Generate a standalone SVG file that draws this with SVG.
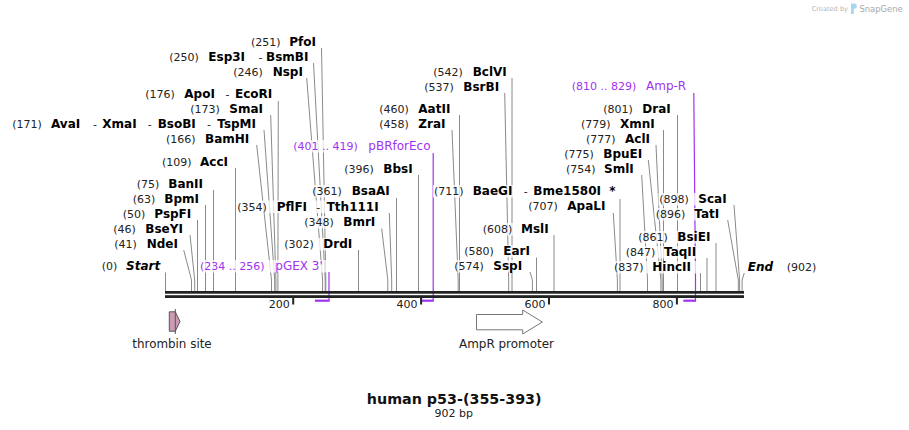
<svg xmlns="http://www.w3.org/2000/svg" width="909" height="430" viewBox="0 0 909 430">
<style>
.n{font-family:"DejaVu Sans",Verdana,sans-serif;font-size:11px;fill:#222}
.e{font-family:"DejaVu Sans",Verdana,sans-serif;font-size:12px;font-weight:bold;fill:#000}
.ei{font-family:"DejaVu Sans",Verdana,sans-serif;font-size:12px;font-weight:bold;font-style:italic;fill:#000}
.pn{font-family:"DejaVu Sans",Verdana,sans-serif;font-size:11px;fill:#a033f0}
.pt{font-family:"DejaVu Sans",Verdana,sans-serif;font-size:12px;fill:#a033f0}
.ft{font-family:"DejaVu Sans",Verdana,sans-serif;font-size:12px;fill:#222}
.bg{fill:#fff;fill-opacity:0.75}
.cl{stroke:#8a8a8a;stroke-width:1;fill:none}
.pl{stroke:#a033f0;stroke-width:1.2;fill:none}
.ph{stroke:#a033f0;stroke-width:2.2;fill:none}
.tk{stroke:#222;stroke-width:2}
</style>

<g id="watermark">
<text x="811.7" y="10.5" font-family="DejaVu Sans,sans-serif" font-size="6.6px" fill="#b4b4b4">Created by</text>
<path d="M851 3.5h3.2a2.6 2.6 0 0 1 0 5.2h-0.4v5.3h-2.8z" fill="#a6d6f2"/>
<text x="859.5" y="12" font-family="DejaVu Sans,sans-serif" font-size="8.4px" fill="#a8a8a8">SnapGene</text>
</g>

<g id="connectors">
<path class="cl" d="M321.5 48L325.8 280V291"/>
<path class="cl" d="M313.5 63L325.2 280V291"/>
<path class="cl" d="M306.7 78L322.6 280V291"/>
<path class="cl" d="M278.3 101L277.9 280V291"/>
<path class="cl" d="M270.7 115L275.9 280V291"/>
<path class="cl" d="M264 130L274.7 280V291"/>
<path class="cl" d="M256.7 145L271.5 280V291"/>
<path class="cl" d="M235.5 168V291"/>
<path class="cl" d="M213.5 190V291"/>
<path class="cl" d="M205.5 205V291"/>
<path class="cl" d="M197.5 220V291"/>
<path class="cl" d="M190 235L194.7 280V291"/>
<path class="cl" d="M183.7 250L191.5 280V291"/>
<path class="cl" d="M165.5 272.5V291"/>
<path class="cl" d="M389.3 213L391.7 280V291"/>
<path class="cl" d="M381.7 228.5L387.8 280V291"/>
<path class="cl" d="M358.5 250V291"/>
<path class="cl" d="M396.5 198V291"/>
<path class="cl" d="M418.5 175V291"/>
<path class="cl" d="M459.5 115V291"/>
<path class="cl" d="M452 130L458.2 280V291"/>
<path class="cl" d="M512 78V291"/>
<path class="cl" d="M504.7 93L508.7 280V291"/>
<path class="cl" d="M620 199V291"/>
<path class="cl" d="M613.3 213L617.4 280V291"/>
<path class="cl" d="M554 235V291"/>
<path class="cl" d="M536.5 257.5V291"/>
<path class="cl" d="M530 272L532.4 280V291"/>
<path class="cl" d="M677.5 115V291"/>
<path class="cl" d="M663.5 130V291"/>
<path class="cl" d="M656 145L662.2 280V291"/>
<path class="cl" d="M648.3 160L660.9 280V291"/>
<path class="cl" d="M641.7 175L647.5 280V291"/>
<path class="cl" d="M734 205L739.6 280V291"/>
<path class="cl" d="M727.7 220L738.3 280V291"/>
<path class="cl" d="M716 243V291"/>
<path class="cl" d="M707 258V291"/>
<path class="cl" d="M700.5 273V291"/>
<path class="cl" d="M744.3 273L742.1 280V291"/>
<path class="pl" d="M329 272V300.7"/>
<path class="ph" d="M329.5 300.7H314.9"/>
<path class="pl" d="M433.2 153V300.7"/>
<path class="ph" d="M433.7 300.7H421.7"/>
<path class="pl" d="M693.8 93L695.5 280V300.7"/>
<path class="ph" d="M696 300.7H683.3"/>
</g>

<g id="backbone">
<rect x="165" y="291" width="579" height="2.7" fill="#222"/>
<rect x="165" y="295.2" width="579" height="2.8" fill="#222"/>
<line class="tk" x1="293.2" y1="298" x2="293.2" y2="304.5"/>
<line class="tk" x1="421.1" y1="298" x2="421.1" y2="304.5"/>
<line class="tk" x1="549" y1="298" x2="549" y2="304.5"/>
<line class="tk" x1="676.9" y1="298" x2="676.9" y2="304.5"/>
<text class="n" x="289.7" y="308" text-anchor="end">200</text>
<text class="n" x="417.6" y="308" text-anchor="end">400</text>
<text class="n" x="545.5" y="308" text-anchor="end">600</text>
<text class="n" x="673.4" y="308" text-anchor="end">800</text>
</g>

<g id="PfoI"><rect class="bg" x="250" y="36" width="69" height="12.5"/><text class="n" x="251" y="46">(251)</text><text class="e" x="289.3" y="46">PfoI</text></g>
<g id="Esp3I"><rect class="bg" x="168.3" y="51" width="143.2" height="12.5"/><text class="n" x="169.3" y="61">(250)</text><text class="e" x="208.3" y="61">Esp3I</text><text class="n" x="258.5" y="61">-</text><text class="e" x="266" y="61">BsmBI</text></g>
<g id="NspI"><rect class="bg" x="232.3" y="66" width="72.4" height="12.5"/><text class="n" x="233.3" y="76">(246)</text><text class="e" x="272.7" y="76">NspI</text></g>
<g id="ApoI"><rect class="bg" x="144.3" y="88" width="132" height="12.5"/><text class="n" x="145.3" y="98">(176)</text><text class="e" x="184.3" y="98">ApoI</text><text class="n" x="225.5" y="98">-</text><text class="e" x="235" y="98">EcoRI</text></g>
<g id="SmaI"><rect class="bg" x="189.3" y="103" width="79.4" height="12.5"/><text class="n" x="190.3" y="113">(173)</text><text class="e" x="229.3" y="113">SmaI</text></g>
<g id="AvaI"><rect class="bg" x="11.3" y="118" width="250.7" height="12.5"/><text class="n" x="12.3" y="128">(171)</text><text class="e" x="51" y="128">AvaI</text><text class="n" x="93" y="128">-</text><text class="e" x="102.3" y="128">XmaI</text><text class="n" x="147.8" y="128">-</text><text class="e" x="157.7" y="128">BsoBI</text><text class="n" x="207" y="128">-</text><text class="e" x="217.3" y="128">TspMI</text></g>
<g id="BamHI"><rect class="bg" x="165" y="133" width="89.7" height="12.5"/><text class="n" x="166" y="143">(166)</text><text class="e" x="205" y="143">BamHI</text></g>
<g id="AccI"><rect class="bg" x="161" y="156" width="72" height="12.5"/><text class="n" x="162" y="166">(109)</text><text class="e" x="200" y="166">AccI</text></g>
<g id="BanII"><rect class="bg" x="135.7" y="178" width="75.6" height="12.5"/><text class="n" x="136.7" y="188">(75)</text><text class="e" x="168.3" y="188">BanII</text></g>
<g id="BpmI"><rect class="bg" x="131.7" y="193" width="71.9" height="12.5"/><text class="n" x="132.7" y="203">(63)</text><text class="e" x="164.3" y="203">BpmI</text></g>
<g id="PspFI"><rect class="bg" x="121.7" y="208" width="73.6" height="12.5"/><text class="n" x="122.7" y="218">(50)</text><text class="e" x="154.3" y="218">PspFI</text></g>
<g id="BseYI"><rect class="bg" x="112.3" y="223" width="75.7" height="12.5"/><text class="n" x="113.3" y="233">(46)</text><text class="e" x="145.3" y="233">BseYI</text></g>
<g id="NdeI"><rect class="bg" x="113.3" y="238" width="68.4" height="12.5"/><text class="n" x="114.3" y="248">(41)</text><text class="e" x="146.7" y="248">NdeI</text></g>
<g id="Start"><rect class="bg" x="100.7" y="260" width="60.3" height="12.5"/><text class="n" x="101.7" y="270">(0)</text><text class="ei" x="126" y="270">Start</text></g>
<g id="PflFI"><rect class="bg" x="236.3" y="200.5" width="151" height="12.5"/><text class="n" x="237.3" y="210.5">(354)</text><text class="e" x="276.7" y="210.5">PflFI</text><text class="n" x="316.2" y="210.5">-</text><text class="e" x="326.7" y="210.5">Tth111I</text></g>
<g id="BmrI"><rect class="bg" x="303.3" y="216" width="76.4" height="12.5"/><text class="n" x="304.3" y="226">(348)</text><text class="e" x="343.3" y="226">BmrI</text></g>
<g id="DrdI"><rect class="bg" x="283.3" y="238" width="73.1" height="12.5"/><text class="n" x="284.3" y="248">(302)</text><text class="e" x="323.3" y="248">DrdI</text></g>
<g id="BsaAI"><rect class="bg" x="311.3" y="185" width="82.9" height="12.5"/><text class="n" x="312.3" y="195">(361)</text><text class="e" x="351.7" y="195">BsaAI</text></g>
<g id="BbsI"><rect class="bg" x="343.3" y="163" width="73.2" height="12.5"/><text class="n" x="344.3" y="173">(396)</text><text class="e" x="383.3" y="173">BbsI</text></g>
<g id="AatII"><rect class="bg" x="378.3" y="103" width="79.2" height="12.5"/><text class="n" x="379.3" y="113">(460)</text><text class="e" x="418.3" y="113">AatII</text></g>
<g id="ZraI"><rect class="bg" x="378.3" y="118" width="71.7" height="12.5"/><text class="n" x="379.3" y="128">(458)</text><text class="e" x="418.3" y="128">ZraI</text></g>
<g id="BclVI"><rect class="bg" x="432.3" y="66" width="77.6" height="12.5"/><text class="n" x="433.3" y="76">(542)</text><text class="e" x="472.7" y="76">BclVI</text></g>
<g id="BsrBI"><rect class="bg" x="423.3" y="81" width="79.4" height="12.5"/><text class="n" x="424.3" y="91">(537)</text><text class="e" x="463.3" y="91">BsrBI</text></g>
<g id="BaeGI"><rect class="bg" x="433" y="185" width="185" height="12.5"/><text class="n" x="434" y="195">(711)</text><text class="e" x="472.7" y="195">BaeGI</text><text class="n" x="523.8" y="195">-</text><text class="e" x="533.3" y="195">Bme1580I</text><text class="e" x="609.3" y="195">*</text></g>
<g id="ApaLI"><rect class="bg" x="527.3" y="199.5" width="84" height="12.5"/><text class="n" x="528.3" y="209.5">(707)</text><text class="e" x="567.3" y="209.5">ApaLI</text></g>
<g id="MslI"><rect class="bg" x="481.7" y="223" width="70.4" height="12.5"/><text class="n" x="482.7" y="233">(608)</text><text class="e" x="521" y="233">MslI</text></g>
<g id="EarI"><rect class="bg" x="463.3" y="245" width="70.9" height="12.5"/><text class="n" x="464.3" y="255">(580)</text><text class="e" x="503.3" y="255">EarI</text></g>
<g id="SspI"><rect class="bg" x="453.3" y="260" width="74.7" height="12.5"/><text class="n" x="454.3" y="270">(574)</text><text class="e" x="493.3" y="270">SspI</text></g>
<g id="DraI"><rect class="bg" x="602.3" y="103" width="73.2" height="12.5"/><text class="n" x="603.3" y="113">(801)</text><text class="e" x="642.3" y="113">DraI</text></g>
<g id="XmnI"><rect class="bg" x="580" y="118" width="81.5" height="12.5"/><text class="n" x="581" y="128">(779)</text><text class="e" x="620" y="128">XmnI</text></g>
<g id="AclI"><rect class="bg" x="585" y="133" width="69" height="12.5"/><text class="n" x="586" y="143">(777)</text><text class="e" x="625" y="143">AclI</text></g>
<g id="BpuEI"><rect class="bg" x="563.3" y="148" width="83" height="12.5"/><text class="n" x="564.3" y="158">(775)</text><text class="e" x="603.3" y="158">BpuEI</text></g>
<g id="SmlI"><rect class="bg" x="565" y="163" width="74.7" height="12.5"/><text class="n" x="566" y="173">(754)</text><text class="e" x="604" y="173">SmlI</text></g>
<g id="ScaI"><rect class="bg" x="658.3" y="193" width="73.7" height="12.5"/><text class="n" x="659.3" y="203">(898)</text><text class="e" x="698.3" y="203">ScaI</text></g>
<g id="TatI"><rect class="bg" x="654.7" y="208" width="71" height="12.5"/><text class="n" x="655.7" y="218">(896)</text><text class="e" x="694.3" y="218">TatI</text></g>
<g id="BsiEI"><rect class="bg" x="637.3" y="231" width="76.6" height="12.5"/><text class="n" x="638.3" y="241">(861)</text><text class="e" x="677.3" y="241">BsiEI</text></g>
<g id="TaqII"><rect class="bg" x="624.7" y="246" width="80.3" height="12.5"/><text class="n" x="625.7" y="256">(847)</text><text class="e" x="664" y="256">TaqII</text></g>
<g id="HincII"><rect class="bg" x="613" y="261" width="85.6" height="12.5"/><text class="n" x="614" y="271">(837)</text><text class="e" x="652.3" y="271">HincII</text></g>
<g id="End"><rect class="bg" x="746" y="261" width="74" height="12.5"/><text class="ei" x="747.7" y="271">End</text><text class="n" x="786.7" y="271">(902)</text></g>

<g id="pGEX3"><rect class="bg" x="199" y="260" width="128" height="12.5"/><text class="pn" x="200" y="270">(234 .. 256)</text><text class="pt" x="275.3" y="270">pGEX 3'</text></g>
<g id="pBRforEco"><rect class="bg" x="292.3" y="140" width="138.9" height="12.5"/><text class="pn" x="293.3" y="150">(401 .. 419)</text><text class="pt" x="368.3" y="150">pBRforEco</text></g>
<g id="AmpR"><rect class="bg" x="570.7" y="80" width="120.8" height="12.5"/><text class="pn" x="571.7" y="90">(810 .. 829)</text><text class="pt" x="646" y="90">Amp-R</text></g>

<g id="thrombin">
<polygon points="169.3,311.8 175.3,311.8 180,321.5 175.3,331.2 169.3,331.2" fill="#cc9ab4" stroke="#555" stroke-width="1"/>
<line x1="175.3" y1="309" x2="175.3" y2="334" stroke="#555" stroke-width="1"/>
<text class="ft" x="132.3" y="348.3" textLength="79.4" lengthAdjust="spacingAndGlyphs">thrombin site</text>
</g>
<g id="AmpRpromoter">
<polygon points="476.5,314.5 522.7,314.5 522.7,310 542.3,322 522.7,334 522.7,329.8 476.5,329.8" fill="#fff" stroke="#777" stroke-width="1"/>
<text class="ft" x="459" y="347.7" textLength="95" lengthAdjust="spacingAndGlyphs">AmpR promoter</text>
</g>

<g id="title">
<text x="454.2" y="404" text-anchor="middle" font-family="DejaVu Sans,Verdana,sans-serif" font-size="14.3px" font-weight="bold" fill="#111">human p53-(355-393)</text>
<text x="453.8" y="417.3" text-anchor="middle" font-family="DejaVu Sans,Verdana,sans-serif" font-size="11px" fill="#222">902 bp</text>
</g>
</svg>
